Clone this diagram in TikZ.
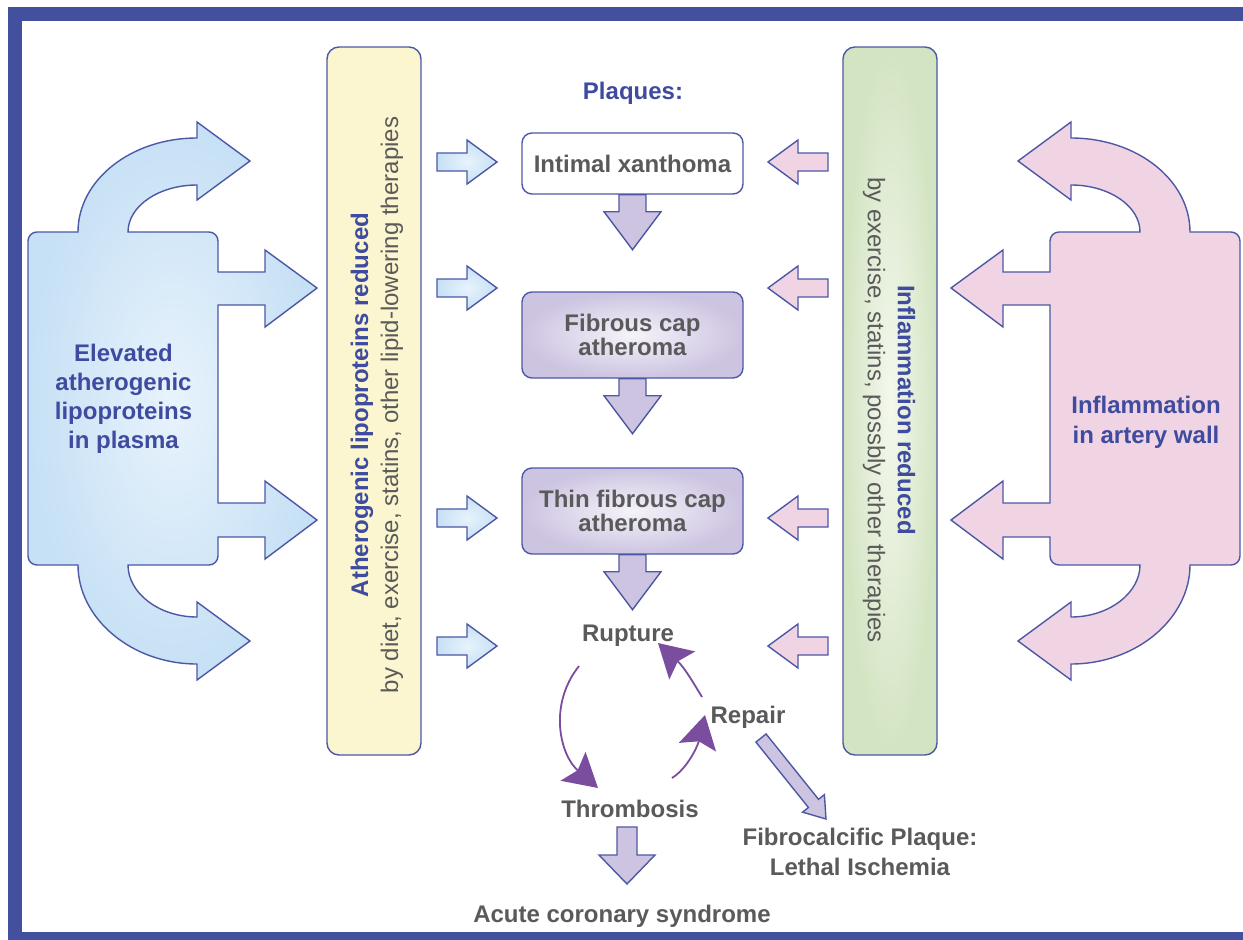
\documentclass[tikz,border=0pt]{standalone}
\usepackage{fontspec}
\setmainfont{Liberation Sans}
\usetikzlibrary{arrows.meta,calc}
\definecolor{frameblue}{HTML}{43509D}
\definecolor{lineblue}{HTML}{4D58A5}
\definecolor{txtblue}{HTML}{3E4B9E}
\definecolor{txtgray}{HTML}{5A5A5A}
\definecolor{blueF}{HTML}{C6E0F5}
\definecolor{blueC}{HTML}{E8F3FC}
\definecolor{pinkF}{HTML}{F0D4E4}
\definecolor{yellowF}{HTML}{FBF6D0}
\definecolor{greenF}{HTML}{D3E4C2}
\definecolor{greenC}{HTML}{F4F8EE}
\definecolor{purpleF}{HTML}{CDC4E1}
\definecolor{purpleC}{HTML}{F5F3FA}
\definecolor{cycP}{HTML}{7A4D9E}
\newcommand{\lipshape}{(28,556) -- (28,241) .. controls (28,236) and (32,232) .. (37,232)
 -- (78,232) .. controls (78,180) and (131,138) .. (197,138)
 -- (197,122) -- (250,161) -- (197,200) -- (197,185)
 .. controls (159,185) and (128,206) .. (128,232)
 -- (209,232) .. controls (214,232) and (218,236) .. (218,241)
 -- (218,272) -- (265,272) -- (265,250) -- (317,288) -- (265,327) -- (265,305) -- (218,305)
 -- (218,503) -- (265,503) -- (265,481) -- (317,520) -- (265,559) -- (265,537) -- (218,537)
 -- (218,556) .. controls (218,561) and (214,565) .. (209,565)
 -- (128,565) .. controls (128,593) and (159,617) .. (197,617)
 -- (197,602) -- (250,641) -- (197,680) -- (197,664)
 .. controls (131,664) and (78,618) .. (78,565)
 -- (37,565) .. controls (32,565) and (28,561) .. (28,556) -- cycle}
\tikzset{
 outl/.style={draw=lineblue, line width=1.4pt, line join=miter},
 lbl/.style={font=\fontsize{24pt}{29pt}\selectfont\bfseries, text=txtgray, inner sep=0pt, anchor=base},
 blbl/.style={lbl, text=txtblue},
 boxbase/.style={outl, rounded corners=10pt, minimum width=221pt, text=txtgray,
   font=\fontsize{24pt}{22pt}\selectfont\bfseries, align=center, inner sep=0pt},
 wbox/.style={boxbase, fill=white, minimum height=61pt},
 pbox/.style={boxbase, inner color=purpleC, outer color=purpleF, minimum height=86pt},
 barbox/.style={outl, rounded corners=12pt, minimum width=94pt, minimum height=708pt},
 bartxt/.style={font=\fontsize{24pt}{30pt}\selectfont, text=txtgray, align=center, inner sep=0pt},
 parr/.style={outl, fill=purpleF},
 cyc/.style={draw=cycP, line width=1.8pt, -{Stealth[length=33pt,width=38pt,inset=6pt]}},
 rarr/.pic={\shadedraw[outl, inner color=blueC, outer color=blueF] (0,-9) -- (30,-9) -- (30,-22) -- (60,0) -- (30,22) -- (30,9) -- (0,9) -- cycle;},
 larr/.pic={\filldraw[outl, fill=pinkF] (0,-9) -- (-30,-9) -- (-30,-22) -- (-60,0) -- (-30,22) -- (-30,9) -- (0,9) -- cycle;},
 downarr/.pic={\filldraw[outl, fill=purpleF] (-13.5,0) -- (-13.5,17) -- (-28.5,17) -- (0,55) -- (28.5,17) -- (13.5,17) -- (13.5,0) -- cycle;}
}
\begin{document}
\begin{tikzpicture}[x=1pt,y=-1pt]
\useasboundingbox (0,0) rectangle (1243,940);
\fill[white] (0,0) rectangle (1243,940);
% frame
\fill[frameblue] (8,7) rectangle (1243,21);
\fill[frameblue] (8,7) rectangle (22,940);
\fill[frameblue] (8,932) rectangle (1243,940);

% side shapes
\shadedraw[outl, inner color=blueC, outer color=blueF] \lipshape;
\begin{scope}[xshift=1268pt, xscale=-1]
\filldraw[outl, fill=pinkF] \lipshape;
\end{scope}
\node[blbl, align=center, font=\fontsize{24pt}{28.7pt}\selectfont\bfseries] (elev) at (123.5,448) {Elevated\\atherogenic\\lipoproteins\\in plasma};
\node[blbl, align=center, font=\fontsize{24pt}{30pt}\selectfont\bfseries] (infl) at (1146,443) {Inflammation\\in artery wall};

% bars
\node[barbox, fill=yellowF] (ybar) at (374,401) {};
\node[bartxt, rotate=90] (ytxt) at (377,405) {{\bfseries\color{txtblue}Atherogenic lipoproteins reduced}\\by diet, exercise, statins, other lipid-lowering therapies};
\node[barbox, inner color=greenC, outer color=greenF] (gbar) at (890,401) {};
\node[bartxt, rotate=-90] (gtxt) at (889,410) {{\bfseries\color{txtblue}Inflammation reduced}\\by exercise, statins, possbly other therapies};

% small arrows
\foreach \yy in {162,288,518,646} {
  \pic at (437,\yy) {rarr};
  \pic at (828,\yy) {larr};
}

% plaques
\node[blbl] (plq) at (633,99) {Plaques:};
\node[wbox] (ix) at (632.5,163.5) {Intimal xanthoma};
\node[pbox, font=\fontsize{24pt}{20.5pt}\selectfont\bfseries] (fc) at (632.5,335) {Fibrous cap\\atheroma};
\node[pbox, font=\fontsize{24pt}{24pt}\selectfont\bfseries] (tf) at (632.5,511) {Thin fibrous cap\\atheroma};
\pic at (ix.south) {downarr};
\pic at (fc.south) {downarr};
\pic at (tf.south) {downarr};

% cycle
\node[lbl] (rup) at (628,641) {Rupture};
\node[lbl] (thr) at (630,817) {Thrombosis};
\node[lbl] (rep) at (748,723) {Repair};
\node[lbl, align=center, font=\fontsize{24pt}{30pt}\selectfont\bfseries] (fib) at (860,875) {Fibrocalcific Plaque:\\Lethal Ischemia};
\node[lbl] (acs) at (622,922) {Acute coronary syndrome};

\draw[cyc] ($(rup.base)+(-49,25)$) .. controls ($(rup.base)+(-80,64)$) and ($(thr.base)+(-70,-62)$) .. ($(thr.base)+(-32,-29)$);
\draw[cyc] ($(thr.base)+(42,-39)$) .. controls ($(thr.base)+(58,-49)$) and ($(rep.base)+(-50,22)$) .. ($(rep.base)+(-43,-8)$);
\draw[cyc] ($(rep.base)+(-46,-26)$) .. controls ($(rep.base)+(-54,-39)$) and ($(rup.base)+(57,27)$) .. ($(rup.base)+(30,2)$);

% repair -> fibrocalcific hollow arrow
\coordinate (dtail) at ($(rep.base)+(13,15)$);
\coordinate (dtip) at ($(fib.base)+(-34,-56)$);
\coordinate (dbase) at ($(dtip)!20pt!(dtail)$);
\filldraw[parr] ($(dtail)!6.5pt!90:(dtip)$) -- ($(dbase)!6.5pt!-90:(dtail)$) -- ($(dbase)!14pt!-90:(dtail)$) -- (dtip) -- ($(dbase)!14pt!90:(dtail)$) -- ($(dbase)!6.5pt!90:(dtail)$) -- ($(dtail)!6.5pt!-90:(dtip)$) -- cycle;

% thrombosis -> acute coronary syndrome
\filldraw[parr] ($(thr.base)+(-13,10)$) -- ++(0,28) -- ++(-18,0) -- ++(28,29) -- ++(28,-29) -- ++(-18,0) -- ++(0,-28) -- cycle;
\end{tikzpicture}
\end{document}
